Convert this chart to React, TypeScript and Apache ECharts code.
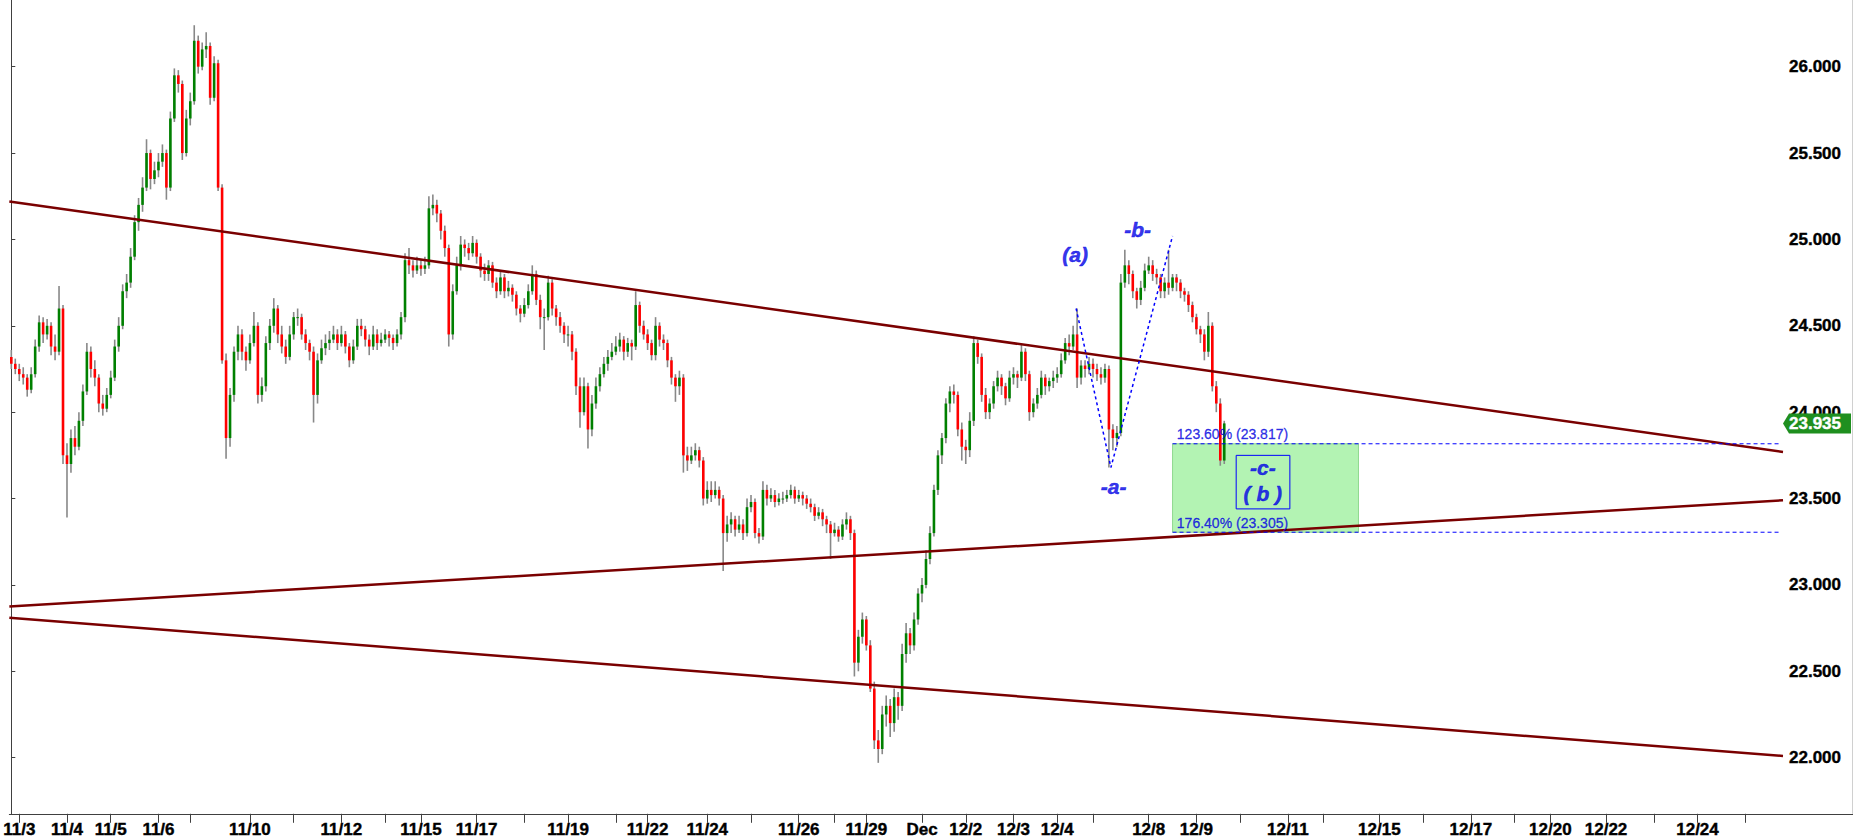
import { useEffect, useRef } from "react";
import * as echarts from "echarts";

// ---------- data ----------
const SLOT_COUNT = 446; // bar slots on the time axis (about 2-hour bars)

// [open, high, low, close]
const barsWeek1 = [
  [24.32,24.36,24.25,24.28],[24.28,24.31,24.22,24.25],[24.25,24.28,24.18,24.22],[24.22,24.26,24.16,24.2],
  [24.2,24.22,24.09,24.13],[24.13,24.26,24.11,24.22],[24.22,24.42,24.2,24.38],[24.38,24.56,24.35,24.52],
  [24.52,24.55,24.4,24.45],[24.45,24.54,24.42,24.5],[24.5,24.52,24.33,24.38],[24.38,24.45,24.3,24.35],
  [24.35,24.73,24.33,24.6],[24.6,24.62,23.7,23.75],[23.75,23.82,23.39,23.7],[23.7,23.9,23.65,23.85],
  [23.85,23.92,23.75,23.8],[23.8,24.0,23.78,23.95],[23.95,24.16,23.92,24.12],[24.12,24.4,24.1,24.35],
  [24.35,24.38,24.2,24.25],[24.25,24.3,24.15,24.2],[24.2,24.22,24.0,24.05],[24.05,24.1,23.98,24.02],
  [24.02,24.14,24.0,24.1],[24.1,24.24,24.08,24.2],[24.2,24.42,24.18,24.38],[24.38,24.55,24.35,24.5],
  [24.5,24.74,24.48,24.7],[24.7,24.8,24.66,24.75],[24.75,24.95,24.72,24.9],[24.9,25.14,24.88,25.1],
  [25.1,25.24,25.05,25.2],[25.2,25.36,25.16,25.3],[25.3,25.58,25.28,25.5],[25.5,25.52,25.29,25.35],
  [25.35,25.45,25.32,25.4],[25.4,25.5,25.36,25.45],[25.45,25.55,25.42,25.5],[25.5,25.52,25.23,25.3],
  [25.3,25.74,25.28,25.7],[25.7,25.99,25.68,25.95],[25.95,25.98,25.85,25.9],[25.9,25.92,25.46,25.5],
  [25.5,25.75,25.48,25.7],[25.7,25.85,25.66,25.8],[25.8,26.24,25.78,26.15],[26.15,26.18,25.96,26.0],
  [26.0,26.14,25.98,26.1],[26.1,26.2,26.05,26.12],[26.12,26.14,25.78,25.82],[25.82,26.06,25.8,26.02],
  [26.02,26.04,25.28,25.3],[25.3,25.32,24.28,24.3],[24.3,24.34,23.73,23.85],[23.85,24.14,23.8,24.1],
  [24.1,24.38,24.06,24.35],[24.35,24.5,24.3,24.45],[24.45,24.48,24.3,24.35],[24.35,24.38,24.24,24.3],
];
const barsWeek2 = [
  [24.3,24.45,24.28,24.4],[24.4,24.58,24.38,24.5],[24.5,24.52,24.05,24.1],[24.1,24.2,24.06,24.15],
  [24.15,24.44,24.12,24.4],[24.4,24.54,24.36,24.5],[24.5,24.66,24.46,24.6],[24.6,24.62,24.4,24.45],
  [24.45,24.5,24.34,24.38],[24.38,24.42,24.28,24.32],[24.32,24.5,24.3,24.45],[24.45,24.58,24.42,24.55],
  [24.55,24.6,24.5,24.55],[24.55,24.57,24.42,24.45],[24.45,24.48,24.36,24.4],[24.4,24.42,24.3,24.35],
  [24.35,24.38,23.94,24.1],[24.1,24.34,24.05,24.3],[24.3,24.42,24.28,24.37],[24.37,24.45,24.33,24.4],
  [24.4,24.47,24.36,24.42],[24.42,24.5,24.4,24.45],[24.45,24.48,24.36,24.4],[24.4,24.5,24.38,24.45],
  [24.45,24.47,24.34,24.38],[24.38,24.4,24.26,24.3],[24.3,24.42,24.28,24.38],[24.38,24.54,24.36,24.5],
  [24.5,24.54,24.44,24.48],[24.48,24.5,24.38,24.42],[24.42,24.45,24.33,24.38],[24.38,24.5,24.36,24.45],
  [24.45,24.48,24.36,24.4],[24.4,24.46,24.38,24.42],[24.42,24.48,24.4,24.45],[24.45,24.47,24.38,24.43],
  [24.43,24.45,24.36,24.4],[24.4,24.48,24.38,24.45],[24.45,24.58,24.42,24.55],[24.55,24.92,24.52,24.88],
  [24.88,24.95,24.8,24.85],[24.85,24.88,24.78,24.82],[24.82,24.9,24.8,24.85],[24.85,24.88,24.79,24.83],
  [24.83,24.9,24.8,24.85],[24.85,25.25,24.83,25.18],[25.18,25.26,25.14,25.2],[25.2,25.23,25.1,25.15],
  [25.15,25.17,25.0,25.05],[25.05,25.08,24.9,24.95],[24.95,24.97,24.38,24.45],[24.45,24.74,24.42,24.7],
  [24.7,24.9,24.68,24.85],[24.85,25.02,24.82,24.97],[24.97,25.0,24.9,24.95],[24.95,24.98,24.88,24.92],
  [24.92,25.02,24.9,24.98],[24.98,25.0,24.86,24.9],
];
const barsWeek3 = [
  [24.9,24.92,24.78,24.82],[24.82,24.86,24.76,24.8],[24.8,24.88,24.76,24.85],[24.85,24.87,24.72,24.75],
  [24.75,24.78,24.66,24.7],[24.7,24.82,24.68,24.78],[24.78,24.8,24.66,24.7],[24.7,24.76,24.67,24.72],
  [24.72,24.74,24.64,24.68],[24.68,24.7,24.56,24.6],[24.6,24.62,24.52,24.57],[24.57,24.66,24.55,24.62],
  [24.62,24.74,24.6,24.7],[24.7,24.85,24.68,24.8],[24.8,24.82,24.62,24.65],[24.65,24.68,24.48,24.55],
  [24.55,24.6,24.36,24.55],[24.55,24.79,24.53,24.75],[24.75,24.77,24.56,24.6],[24.6,24.62,24.5,24.55],
  [24.55,24.58,24.46,24.5],[24.5,24.52,24.4,24.45],[24.45,24.5,24.38,24.45],[24.45,24.47,24.3,24.35],
  [24.35,24.37,24.1,24.15],[24.15,24.2,23.91,24.0],[24.0,24.2,23.98,24.15],[24.15,24.17,23.79,23.9],
  [23.9,24.1,23.86,24.05],[24.05,24.2,24.02,24.15],[24.15,24.26,24.12,24.22],[24.22,24.32,24.2,24.28],
  [24.28,24.36,24.24,24.32],[24.32,24.4,24.3,24.35],[24.35,24.44,24.33,24.38],[24.38,24.46,24.35,24.42],
  [24.42,24.44,24.3,24.35],[24.35,24.43,24.32,24.4],[24.4,24.42,24.3,24.38],[24.38,24.7,24.36,24.62],
  [24.62,24.64,24.46,24.5],[24.5,24.53,24.42,24.45],[24.45,24.48,24.36,24.4],[24.4,24.42,24.3,24.33],
  [24.33,24.55,24.3,24.5],[24.5,24.52,24.38,24.42],[24.42,24.45,24.36,24.4],[24.4,24.42,24.26,24.3],
  [24.3,24.32,24.16,24.2],[24.2,24.22,24.06,24.15],[24.15,24.24,24.1,24.2],[24.2,24.22,23.65,23.75],
  [23.75,23.8,23.66,23.72],[23.72,23.8,23.7,23.75],[23.75,23.82,23.72,23.78],[23.78,23.8,23.68,23.72],
  [23.72,23.74,23.46,23.5],[23.5,23.6,23.47,23.55],
];
const barsWeek4 = [
  [23.55,23.6,23.48,23.52],[23.52,23.6,23.5,23.55],[23.55,23.57,23.46,23.5],[23.5,23.52,23.08,23.3],
  [23.3,23.4,23.25,23.35],[23.35,23.42,23.3,23.38],[23.38,23.4,23.28,23.32],[23.32,23.4,23.3,23.35],
  [23.35,23.38,23.26,23.3],[23.3,23.5,23.28,23.45],[23.45,23.52,23.42,23.48],[23.48,23.5,23.27,23.3],
  [23.3,23.33,23.24,23.28],[23.28,23.6,23.26,23.55],[23.55,23.58,23.46,23.5],[23.5,23.56,23.48,23.52],
  [23.52,23.55,23.45,23.48],[23.48,23.53,23.46,23.5],[23.5,23.54,23.47,23.5],[23.5,23.55,23.48,23.52],
  [23.52,23.58,23.5,23.55],[23.55,23.57,23.47,23.5],[23.5,23.55,23.48,23.52],[23.52,23.54,23.46,23.5],
  [23.5,23.52,23.44,23.47],[23.47,23.5,23.42,23.45],[23.45,23.47,23.37,23.4],[23.4,23.45,23.38,23.42],
  [23.42,23.44,23.34,23.38],[23.38,23.4,23.3,23.35],[23.35,23.37,23.15,23.3],[23.3,23.36,23.28,23.32],
  [23.32,23.34,23.25,23.28],[23.28,23.38,23.26,23.35],[23.35,23.42,23.32,23.38],[23.38,23.4,23.26,23.3],
  [23.3,23.32,22.47,22.55],[22.55,22.74,22.5,22.7],[22.7,22.84,22.66,22.8],[22.8,22.82,22.62,22.65],
  [22.65,22.68,22.38,22.4],[22.4,22.44,22.05,22.1],[22.1,22.16,21.97,22.05],[22.05,22.3,22.02,22.25],
  [22.25,22.36,22.18,22.3],[22.3,22.34,22.12,22.2],[22.2,22.4,22.15,22.35],[22.35,22.38,22.22,22.3],
  [22.3,22.66,22.27,22.6],[22.6,22.78,22.55,22.72],[22.72,22.75,22.6,22.65],[22.65,22.84,22.62,22.8],
  [22.8,22.98,22.77,22.95],
];
const barsWeek5 = [
  [22.95,23.04,22.9,23.0],[23.0,23.2,22.98,23.15],[23.15,23.34,23.12,23.3],[23.3,23.58,23.28,23.55],
  [23.55,23.78,23.52,23.75],[23.75,23.88,23.7,23.85],[23.85,24.08,23.82,24.05],[24.05,24.15,24.0,24.12],
  [24.12,24.16,24.05,24.1],[24.1,24.12,23.86,23.9],[23.9,23.94,23.72,23.8],[23.8,23.84,23.7,23.78],
  [23.78,24.0,23.74,23.95],[23.95,24.44,23.92,24.4],[24.4,24.42,24.28,24.32],[24.32,24.34,24.06,24.1],
  [24.1,24.14,23.96,24.0],[24.0,24.08,23.96,24.05],[24.05,24.18,24.02,24.15],[24.15,24.24,24.12,24.2],
  [24.2,24.22,24.1,24.15],[24.15,24.17,24.04,24.08],[24.08,24.24,24.06,24.2],[24.2,24.26,24.16,24.22],
  [24.22,24.24,24.14,24.2],[24.2,24.39,24.18,24.35],[24.35,24.37,24.18,24.22],[24.22,24.24,23.95,24.0],
  [24.0,24.08,23.97,24.05],[24.05,24.14,24.02,24.1],[24.1,24.24,24.08,24.2],[24.2,24.22,24.1,24.15],
  [24.15,24.2,24.12,24.18],[24.18,24.24,24.14,24.2],[24.2,24.26,24.17,24.22],[24.22,24.34,24.2,24.3],
  [24.3,24.43,24.28,24.4],[24.4,24.45,24.33,24.38],[24.38,24.5,24.36,24.45],[24.45,24.6,24.14,24.2],
  [24.2,24.3,24.16,24.27],[24.27,24.3,24.2,24.25],[24.25,24.32,24.22,24.28],[24.28,24.31,24.2,24.25],
  [24.25,24.28,24.18,24.22],[24.22,24.26,24.16,24.2],[24.2,24.28,24.17,24.25],[24.25,24.27,23.68,23.9],
  [23.9,23.93,23.78,23.85],[23.85,23.92,23.8,23.88],[23.88,24.8,23.86,24.75],[24.75,24.94,24.72,24.85],
  [24.85,24.88,24.74,24.8],[24.8,24.82,24.66,24.7],[24.7,24.72,24.6,24.65],[24.65,24.76,24.62,24.72],
  [24.72,24.86,24.7,24.82],
];
const barsWeek6 = [
  [24.82,24.9,24.8,24.85],[24.85,24.88,24.76,24.8],[24.8,24.83,24.74,24.78],[24.78,24.8,24.66,24.7],
  [24.7,24.78,24.66,24.75],[24.75,24.94,24.68,24.72],[24.72,24.8,24.7,24.78],[24.78,24.8,24.7,24.75],
  [24.75,24.77,24.66,24.7],[24.7,24.72,24.64,24.68],[24.68,24.7,24.58,24.62],[24.62,24.64,24.52,24.55],
  [24.55,24.57,24.45,24.48],[24.48,24.5,24.4,24.45],[24.45,24.48,24.3,24.35],[24.35,24.58,24.32,24.5],
  [24.5,24.52,24.12,24.15],[24.15,24.18,24.0,24.05],[24.05,24.08,23.69,23.72],[23.72,23.95,23.7,23.935],
];

const lastPrice = 23.935;

// axis ticks
const priceTicks = [22, 22.5, 23, 23.5, 24, 24.5, 25, 25.5, 26];
const priceMin = 21.675;
const priceMax = 26.386;
const dateTickSlots = [2,14,25,37,45,60,71,83,94,103,117,129,140,152,160,175,186,198,207,215,229,240,252,263,272,286,298,309,321,330,344,355,367,378,387,401,413,424,436];
const dateTickLabels = ["11/3","11/4","11/5","11/6","","11/10","","11/12","","11/15","11/17","","11/19","","11/22","11/24","","11/26","","11/29","Dec","12/2","12/3","12/4","","12/8","12/9","","12/11","","12/15","","12/17","","12/20","12/22","","12/24",""];

// trend lines: [slot, price] at the left and right edges
const upperTrend = [[-0.5, 25.22], [445.5, 23.77]];
const middleTrend = [[-0.5, 22.875], [445.5, 23.49]];
const lowerTrend = [[-0.5, 22.81], [445.5, 22.01]];

// Elliott wave path (a) -> -a- -> -b-
const wavePath = [[267.75, 24.6], [276.5, 23.68], [292, 25.02]];

// Fibonacci projection zone
const fibUpper = 23.817;
const fibLower = 23.305;
const fibStartSlot = 292;
const fibZoneEndSlot = 338.75;
const fibLineEndSlot = 444.6;
const fibTexts = ["123.60% (23.817)", "176.40% (23.305)"];

// wave labels: [slot, price, text]
const waveLabels = [
  [267.5, 24.91, "(a)"],
  [283.2, 25.06, "-b-"],
  [277.2, 23.57, "-a-"],
  [314.7, 23.68, "-c-"],
  [314.7, 23.53, "( b )"],
];
const cBox = [[308, 23.75], [321.5, 23.44]];

const FONT = "Liberation Sans";

export default function App() {
  const ref = useRef<HTMLDivElement>(null);

  useEffect(() => {
    document.body.style.margin = "0";
    if (!ref.current) return;
    const chart = echarts.init(ref.current, undefined, { renderer: "svg" });

    const allBars = [...barsWeek1, ...barsWeek2, ...barsWeek3, ...barsWeek4, ...barsWeek5, ...barsWeek6];
    const candleData = allBars.map((b, i) => [i, b[0], b[1], b[2], b[3]]);
    const categories = Array.from({ length: SLOT_COUNT }, (_, i) => String(i));
    const tickMap = new Map<number, string>();
    dateTickSlots.forEach((s, k) => tickMap.set(s, dateTickLabels[k]));

    const trendStyle = { color: "#7a0000", width: 2.5 };
    const blue = "#0000ff";
    const hidden = { color: "rgba(0,0,0,0)" };
    const axisText = {
      color: "#000",
      fontFamily: FONT,
      fontWeight: "bold",
      fontSize: 17,
      textBorderColor: "#000",
      textBorderWidth: 0.4,
    };

    const option: any = {
      animation: false,
      backgroundColor: "#ffffff",
      grid: { left: 0, right: 70, top: 0, bottom: 21, containLabel: false },
      xAxis: [
        {
          type: "category",
          data: categories,
          boundaryGap: true,
          axisLine: { show: true, lineStyle: { color: "#404040", width: 1 } },
          axisTick: {
            show: true,
            alignWithLabel: true,
            interval: (idx: number) => tickMap.has(idx),
            length: 9,
            lineStyle: { color: "#404040" },
          },
          axisLabel: {
            show: true,
            interval: (idx: number) => tickMap.has(idx),
            formatter: (_v: string, idx: number) => tickMap.get(idx) ?? "",
            ...axisText,
            margin: 7,
          },
          splitLine: { show: false },
        },
        { type: "value", min: -0.5, max: SLOT_COUNT - 0.5, show: false },
      ],
      yAxis: {
        type: "value",
        position: "right",
        min: priceMin,
        max: priceMax,
        axisLine: { show: true, lineStyle: { color: "#404040", width: 1 } },
        axisTick: { show: true, length: 4, customValues: priceTicks, lineStyle: { color: "#404040" } },
        axisLabel: {
          customValues: priceTicks,
          formatter: (v: number) => v.toFixed(3),
          ...axisText,
          margin: 6,
        },
        splitLine: { show: false },
      },
      series: [
        {
          type: "line",
          xAxisIndex: 1,
          data: [],
          markArea: {
            silent: true,
            data: [
              [
                { coord: [fibStartSlot, fibUpper], itemStyle: { color: "#b3f3b3", borderColor: "#8fd98f", borderWidth: 1 } },
                { coord: [fibZoneEndSlot, fibLower] },
              ],
              [
                { coord: cBox[0], itemStyle: { color: "rgba(0,0,0,0)", borderColor: blue, borderWidth: 1 } },
                { coord: cBox[1] },
              ],
            ],
          },
          z: 1,
        },
        {
          type: "custom",
          xAxisIndex: 0,
          data: candleData,
          encode: { x: 0, y: [1, 2, 3, 4] },
          clip: true,
          z: 3,
          renderItem: (_params: any, api: any) => {
            const i = api.value(0);
            const o = api.value(1);
            const h = api.value(2);
            const l = api.value(3);
            const c = api.value(4);
            const pO = api.coord([i, o]);
            const pC = api.coord([i, c]);
            const pH = api.coord([i, h]);
            const pL = api.coord([i, l]);
            const x = pO[0];
            const top = Math.min(pO[1], pC[1]);
            const hgt = Math.max(Math.abs(pO[1] - pC[1]), 1);
            return {
              type: "group",
              children: [
                { type: "line", shape: { x1: x, y1: pH[1], x2: x, y2: pL[1] }, style: { stroke: "#888888", lineWidth: 1.6 } },
                { type: "rect", shape: { x: x - 1.3, y: top, width: 2.6, height: hgt }, style: { fill: c >= o ? "#008000" : "#ff0000" } },
              ],
            };
          },
        },
        { type: "line", xAxisIndex: 1, data: upperTrend, symbol: "none", lineStyle: trendStyle, z: 4 },
        { type: "line", xAxisIndex: 1, data: middleTrend, symbol: "none", lineStyle: trendStyle, z: 4 },
        { type: "line", xAxisIndex: 1, data: lowerTrend, symbol: "none", lineStyle: trendStyle, z: 4 },
        {
          type: "line",
          xAxisIndex: 1,
          data: wavePath,
          symbol: "none",
          lineStyle: { color: blue, width: 1.5, type: [3, 3] },
          z: 5,
        },
        {
          type: "line",
          xAxisIndex: 1,
          data: [[fibStartSlot, fibUpper], [fibLineEndSlot, fibUpper]],
          symbol: "none",
          lineStyle: { color: blue, width: 1, type: [4, 3] },
          z: 5,
        },
        {
          type: "line",
          xAxisIndex: 1,
          data: [[fibStartSlot, fibLower], [fibLineEndSlot, fibLower]],
          symbol: "none",
          lineStyle: { color: blue, width: 1, type: [4, 3] },
          z: 5,
        },
        {
          type: "scatter",
          xAxisIndex: 1,
          symbolSize: 1,
          itemStyle: hidden,
          z: 6,
          data: [
            { value: [fibStartSlot + 1.2, fibUpper], name: fibTexts[0] },
            { value: [fibStartSlot + 1.2, fibLower], name: fibTexts[1] },
          ],
          label: {
            show: true,
            formatter: (p: any) => p.name,
            position: [0, -2],
            align: "left",
            verticalAlign: "bottom",
            color: "#0000e0",
            fontFamily: FONT,
            fontSize: 14,
            textBorderColor: "#0000e0",
            textBorderWidth: 0.3,
          },
        },
        {
          type: "scatter",
          xAxisIndex: 1,
          symbolSize: 1,
          itemStyle: hidden,
          z: 6,
          data: waveLabels.map((w) => ({ value: [w[0], w[1]], name: w[2] })),
          label: {
            show: true,
            formatter: (p: any) => p.name,
            position: "inside",
            color: "#0000e6",
            fontFamily: FONT,
            fontSize: 21,
            fontWeight: "bold",
            fontStyle: "italic",
            textBorderColor: "#0000e6",
            textBorderWidth: 0.5,
          },
        },
      ],
    };

    chart.setOption(option);

    const py = chart.convertToPixel({ yAxisIndex: 0 }, lastPrice) as number;
    const axisY = chart.convertToPixel({ yAxisIndex: 0 }, priceMin) as number;
    chart.setOption({
      graphic: [
        {
          type: "polygon",
          z: 100,
          shape: { points: [[1783, py], [1789, py - 10], [1851, py - 10], [1851, py + 10], [1789, py + 10]] },
          style: { fill: "#1f8f1f" },
        },
        {
          type: "text",
          z: 101,
          x: 1789,
          y: py,
          style: {
            text: lastPrice.toFixed(3),
            fill: "#ffffff",
            font: `bold 17px ${FONT}`,
            verticalAlign: "middle",
            stroke: "#ffffff",
            lineWidth: 0.4,
          },
        },
        {
          type: "line",
          z: 100,
          shape: { x1: 1783, y1: Math.round(axisY) + 0.5, x2: 1853, y2: Math.round(axisY) + 0.5 },
          style: { stroke: "#404040", lineWidth: 1 },
        },
        {
          type: "line",
          z: 100,
          shape: { x1: 1852.5, y1: 0, x2: 1852.5, y2: axisY },
          style: { stroke: "#d0d0d0", lineWidth: 1 },
        },
      ],
    });

    return () => chart.dispose();
  }, []);

  return <div ref={ref} style={{ width: 1853, height: 838 }} />;
}
